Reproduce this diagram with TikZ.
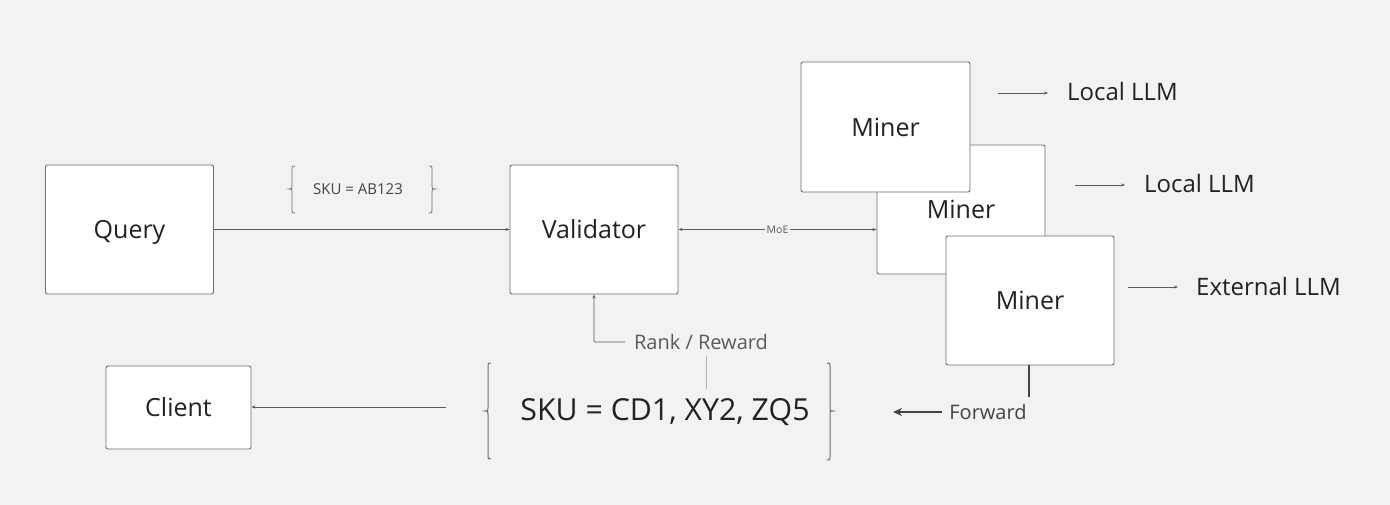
\documentclass[tikz,border=0pt]{standalone}
\usepackage{fontspec}
\setmainfont{Open Sans}
\usetikzlibrary{arrows.meta}
\definecolor{bg}{HTML}{F2F2F2}
\definecolor{txt}{HTML}{222222}
\definecolor{ln}{HTML}{5A5A5A}
\definecolor{bd}{HTML}{6E6E6E}
\tikzset{
  box/.style={draw=bd, line width=0.9pt, fill=white, rounded corners=2pt, inner sep=0pt, text depth=0pt, text=txt, font=\fontsize{25}{28}\selectfont},
  arr/.style={draw=ln, line width=0.7pt, -{Stealth[length=4pt,width=3pt]}},
  arrtwo/.style={draw=ln, line width=0.7pt, {Stealth[length=4pt,width=3pt]}-{Stealth[length=4pt,width=3pt]}},
  brc/.style={draw=bd, line width=1pt},
  lbl/.style={inner sep=0pt, text=txt},
}
\begin{document}
\begin{tikzpicture}[x=1pt,y=-1pt]
\useasboundingbox[fill=bg] (0,0) rectangle (1390,505);
% boxes
\node[box, minimum width=168pt, minimum height=129pt] (q) at (129.5,229.5) {Query};
\node[box, minimum width=168pt, minimum height=129pt] (v) at (594,229.5) {Validator};
\node[box, minimum width=168pt, minimum height=129pt] (m2) at (961,209.5) {Miner};
\node[box, minimum width=169pt, minimum height=130pt] (m1) at (885.5,127) {Miner};
\node[box, minimum width=168pt, minimum height=129pt] (m3) at (1030,300.5) {Miner};
\node[box, minimum width=145pt, minimum height=83pt] (c) at (178.5,407.5) {Client};
% query -> validator
\draw[arr] (q.east) -- (v.west);
% small SKU
\node[lbl, text=txt!85, font=\fontsize{15}{17}\selectfont] (sku1) at (358,189) {SKU = AB123};
\draw[brc, line width=0.8pt] (295,166) .. controls (292,166) .. (292,169) -- (292,186) .. controls (292,189) .. (289,189)
  .. controls (292,189) .. (292,192) -- (292,210) .. controls (292,213) .. (295,213);
\draw[brc, line width=0.8pt] (429,166) .. controls (432,166) .. (432,169) -- (432,186) .. controls (432,189) .. (435,189)
  .. controls (432,189) .. (432,192) -- (432,210) .. controls (432,213) .. (429,213);
% MoE
\draw[arrtwo] (v.east) -- node[fill=bg, inner sep=1.5pt, text=ln, font=\fontsize{10.5}{12}\selectfont] (moe) {MoE} (v.east -| m2.west);
% LLM labels
\node[lbl, anchor=west, font=\fontsize{24}{27}\selectfont] (l1) at (1067,92) {Local LLM};
\node[lbl, anchor=west, font=\fontsize{24}{27}\selectfont] (l2) at (1144,184) {Local LLM};
\node[lbl, anchor=west, font=\fontsize{24}{27}\selectfont] (l3) at (1196,286) {External LLM};
\coordinate (a1) at (998,93);
\coordinate (a2) at (1075,185);
\coordinate (a3) at (1128,287);
\draw[arr] (a1) -- ([xshift=-19pt]l1.west |- a1);
\draw[arr] (a2) -- ([xshift=-19pt]l2.west |- a2);
\draw[arr] (a3) -- ([xshift=-18pt]l3.west |- a3);
% Rank / Reward
\node[lbl, text=ln, font=\fontsize{20}{22}\selectfont, inner xsep=9pt] (rr) at (701,342) {Rank / Reward};
\draw[arr, rounded corners=1pt] (rr.west) -| (v.south);
\coordinate (rrl) at (706,356);
\draw[draw=black!30, line width=0.9pt] (rrl) -- ++(0,33);
% big SKU
\node[lbl, font=\fontsize{30.3}{34}\selectfont] (sku2) at (665,412) {SKU = CD1, XY2, ZQ5};
\draw[brc] (491,363) .. controls (488,363) .. (488,366) -- (488,408) .. controls (488,411) .. (485,411)
  .. controls (488,411) .. (488,414) -- (488,456) .. controls (488,459) .. (491,459);
\draw[brc] (827,363) .. controls (830,363) .. (830,366) -- (830,408) .. controls (830,411) .. (833,411)
  .. controls (830,411) .. (830,414) -- (830,457) .. controls (830,460) .. (827,460);
% client arrow
\coordinate (cs) at (446,407);
\draw[arr] (cs) -- (c.east |- cs);
% Forward
\node[lbl, text=txt!85, font=\fontsize{20}{22}\selectfont] (fw) at (988,412) {Forward};
\coordinate (fwt) at (1029,397);
\draw[draw=txt!85, line width=2pt] (m3.south -| fwt) -- (fwt);
\coordinate (fwe) at (893,412);
\draw[draw=txt!85, line width=2pt, -{Stealth[length=9pt,width=8pt]}] ([xshift=-7pt]fw.west) -- (fwe);
\end{tikzpicture}
\end{document}
